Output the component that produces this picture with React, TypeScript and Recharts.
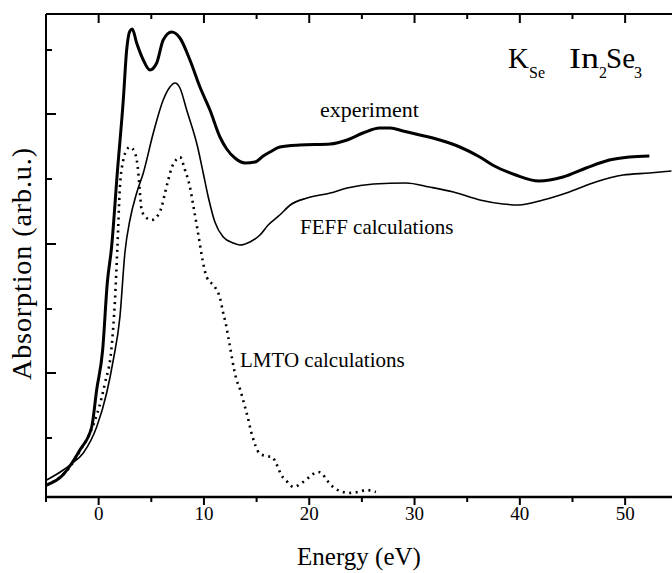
import React from 'react';
import { LineChart, Line, XAxis, YAxis, ReferenceLine } from 'recharts';

// Energy (eV) and absorption (arb. u.) for each curve
const expEnergy = [-4.94, -3.4, -2.73, -1.78, -0.66, -0.19, 0.38, 0.82, 1.23, 1.77, 2.34, 2.66, 2.97, 3.19, 3.61, 4.24, 4.87, 5.51, 6.13, 6.93, 7.72, 8.67, 9.62, 10.57, 11.52, 12.16, 12.94, 13.9, 14.84, 15.63, 16.27, 17.2, 19.1, 22.0, 23.6, 25.1, 26.7, 27.7, 28.9, 30.5, 32.4, 34.3, 36.2, 37.4, 39.6, 41.8, 44.1, 46.3, 48.5, 50.4, 52.3];
const expAbs = [12, 22, 31, 47, 70, 107, 147, 214, 250, 324, 397, 447, 466, 468, 454, 437, 427, 434, 457, 465, 459, 437, 410, 387, 360, 348, 339, 334, 335, 341, 345, 350, 352, 353, 357, 364, 369, 369, 366, 362, 357, 350, 340, 332, 322, 316, 320, 329, 337, 340, 341];

const feffEnergy = [-4.94, -3.36, -2.73, -1.46, -0.19, 0.76, 1.39, 2.02, 2.5, 2.97, 3.61, 4.24, 5.19, 6.13, 6.77, 7.25, 7.72, 8.36, 9.4, 9.93, 10.41, 11.04, 11.83, 12.78, 13.42, 14.37, 15.32, 16.1, 17.2, 18.2, 19.8, 22.0, 23.6, 26.1, 29.2, 31.4, 33.7, 36.2, 38.4, 39.9, 42.2, 44.7, 47.2, 49.8, 52.3, 54.4];
const feffAbs = [17, 27, 32, 44, 70, 104, 137, 180, 245, 277, 304, 324, 364, 397, 410, 414, 409, 387, 350, 324, 300, 275, 260, 254, 252, 255, 262, 272, 282, 292, 299, 304, 309, 313, 314, 310, 305, 297, 293, 292, 297, 305, 315, 322, 324, 326];

const lmtoEnergy = [-4.94, -2.73, -1.78, -0.66, 0.3, 0.6, 1.23, 1.55, 1.77, 2.02, 2.34, 2.66, 2.97, 3.45, 3.77, 3.92, 4.08, 4.56, 5.03, 5.51, 5.98, 6.3, 6.61, 6.93, 7.34, 7.72, 8.2, 8.67, 8.98, 9.31, 9.55, 9.78, 10.0, 10.26, 11.04, 11.52, 11.83, 12.06, 12.31, 13.1, 13.42, 13.64, 13.9, 14.27, 14.46, 14.68, 14.91, 15.25, 15.86, 16.52, 16.74, 17.06, 17.38, 17.63, 18.17, 18.48, 19.28, 19.9, 20.23, 20.85, 21.18, 21.59, 21.97, 22.54, 22.92, 23.7, 24.65, 25.45, 26.33];
const lmtoAbs = [12, 30, 46, 68, 100, 114, 150, 197, 247, 310, 337, 347, 350, 344, 324, 304, 287, 279, 277, 280, 290, 304, 317, 329, 337, 340, 327, 310, 292, 272, 257, 242, 230, 220, 210, 199, 184, 174, 160, 117, 108, 100, 90, 75, 66, 58, 51, 44, 41, 40, 36, 29, 21, 19, 12, 10, 14, 19, 22, 25, 24, 18, 13, 8, 6, 4, 5, 7, 5];

const xTicks = [-5, 0, 5, 10, 15, 20, 25, 30, 35, 40, 45, 50];
const yTicks = [59, 124, 188, 253, 318, 383, 447];
const Y_MAX = 483;

const zip = (xs: number[], ys: number[]) => xs.map((e, i) => ({ e, a: ys[i] }));
const experiment = zip(expEnergy, expAbs);
const feff = zip(feffEnergy, feffAbs);
const lmto = zip(lmtoEnergy, lmtoAbs);

// inward ticks along the top frame, drawn as short vertical segments separated by gaps
const topTicks = xTicks.flatMap((t) => [
  { e: t, a: Y_MAX },
  { e: t, a: Y_MAX - (t % 10 === 0 ? 9 : 5) },
  { e: t, a: null },
]);

const serif = '"Liberation Serif", "Times New Roman", serif';

const BottomTick = (props: any) => {
  const { x, y, payload } = props;
  const major = payload.value % 10 === 0;
  return (
    <g>
      <line x1={x} y1={y} x2={x} y2={y + (major ? 8 : 5)} stroke="#000" strokeWidth={2} />
      {major && (
        <text x={x} y={y + 23} textAnchor="middle" fontSize={19} fontFamily={serif} fill="#000">
          {payload.value}
        </text>
      )}
    </g>
  );
};

const LeftTick = (props: any) => {
  const { x, y, index } = props;
  const major = index % 2 === 1;
  return <line x1={x} y1={y} x2={x + (major ? 10 : 6)} y2={y} stroke="#000" strokeWidth={2} />;
};

export default function App() {
  return (
    <div style={{ position: 'absolute', left: 0, top: 0, width: 672, height: 573, background: '#fff' }}>
      <LineChart width={672} height={573} margin={{ top: 14, right: 0, bottom: 16, left: 45 }}>
        <XAxis
          dataKey="e"
          type="number"
          domain={[-5, 54.45]}
          allowDataOverflow
          ticks={xTicks}
          interval={0}
          height={60}
          tickSize={0}
          tickMargin={0}
          tickLine={false}
          tick={<BottomTick />}
          axisLine={{ stroke: '#000', strokeWidth: 2.5 }}
        />
        <YAxis
          type="number"
          domain={[0, Y_MAX]}
          allowDataOverflow
          ticks={yTicks}
          interval={0}
          width={1}
          tickSize={0}
          tickMargin={0}
          tickLine={false}
          tick={<LeftTick />}
          axisLine={{ stroke: '#000', strokeWidth: 2 }}
        />
        <ReferenceLine y={Y_MAX} stroke="#000" strokeWidth={2} ifOverflow="visible" />
        <Line data={topTicks} dataKey="a" type="linear" stroke="#000" strokeWidth={2} dot={false} connectNulls={false} isAnimationActive={false} />
        <Line data={experiment} dataKey="a" type="monotone" stroke="#000" strokeWidth={3} dot={false} isAnimationActive={false} />
        <Line data={feff} dataKey="a" type="monotone" stroke="#000" strokeWidth={1.6} dot={false} isAnimationActive={false} />
        <Line data={lmto} dataKey="a" type="monotone" stroke="#000" strokeWidth={2.6} strokeDasharray="2 4.5" dot={false} isAnimationActive={false} />
      </LineChart>
      <svg width={672} height={573} style={{ position: 'absolute', left: 0, top: 0, pointerEvents: 'none' }} fontFamily={serif} fill="#000">
        <text x={320} y={117} fontSize={22}>experiment</text>
        <text x={300} y={234} fontSize={21}>FEFF calculations</text>
        <text x={240} y={367} fontSize={21}>LMTO calculations</text>
        <text x={508} y={68} fontSize={29}>K</text>
        <text x={529} y={78} fontSize={16}>Se</text>
        <text x={569} y={68} fontSize={29} textLength={30} lengthAdjust="spacingAndGlyphs">In</text>
        <text x={599} y={78} fontSize={16}>2</text>
        <text x={606} y={68} fontSize={29}>Se</text>
        <text x={634} y={78} fontSize={16}>3</text>
        <text x={359} y={565} fontSize={25} textAnchor="middle">Energy (eV)</text>
        <text x={31} y={264} fontSize={28} textAnchor="middle" textLength={232} transform="rotate(-90 31 264)">
          Absorption (arb.u.)
        </text>
      </svg>
    </div>
  );
}
